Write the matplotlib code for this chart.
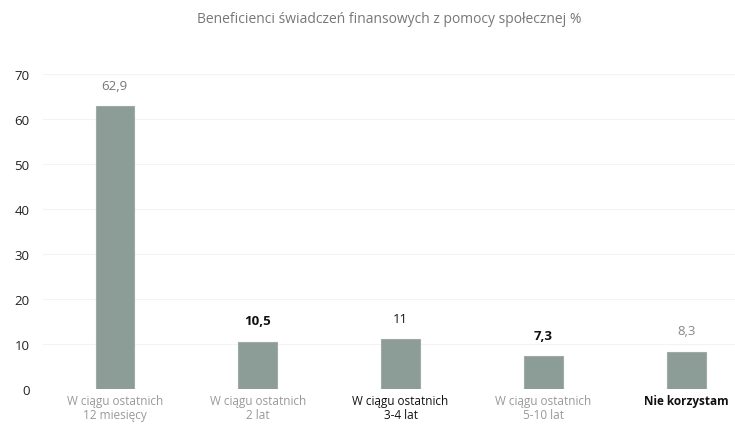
import numpy as np
import matplotlib.pyplot as plt

plt.rcParams['font.family'] = ['Open Sans', 'DejaVu Sans']

title = 'Beneficienci świadczeń finansowych z pomocy społecznej %'
categories = ['W ciągu ostatnich\n12 miesięcy', 'W ciągu ostatnich\n2 lat',
              'W ciągu ostatnich\n3-4 lat', 'W ciągu ostatnich\n5-10 lat',
              'Nie korzystam']
values = [62.9, 10.5, 11, 7.3, 8.3]
value_labels = ['62,9', '10,5', '11', '7,3', '8,3']
yticks = [0, 10, 20, 30, 40, 50, 60, 70]

# scan look: some labels came out dark, some washed out
label_colors = ['#777777', '#111111', '#111111', '#111111', '#888888']
label_weights = ['normal', 'bold', 'normal', 'bold', 'normal']
tick_colors = ['#999999', '#999999', '#111111', '#999999', '#111111']
tick_weights = ['normal', 'normal', 'normal', 'normal', 'bold']

fig = plt.figure(figsize=(7.35, 4.39), dpi=100)
ax = fig.add_axes([0.059, 0.112, 0.941, 0.717])

x = np.arange(len(categories))
ax.bar(x, values, width=0.27, color='#8c9c96', edgecolor='#a0aaa6', linewidth=0.8, zorder=2)

for xi, v, lab, c, w in zip(x, values, value_labels, label_colors, label_weights):
    ax.text(xi, v + 3.2, lab, ha='center', va='bottom', fontsize=9.5, color=c, fontweight=w)

ax.set_xlim(-0.5, 4.34)
ax.set_ylim(0, 70)
ax.set_yticks(yticks)
ax.set_yticklabels([str(t) for t in yticks], fontsize=9.5, color='#222222')
ax.set_xticks(x)
ax.set_xticklabels(categories, fontsize=8.5, linespacing=1.05)
for t, c, w in zip(ax.get_xticklabels(), tick_colors, tick_weights):
    t.set_color(c)
    t.set_fontweight(w)

ax.yaxis.grid(True, color='#f3f3f3', linewidth=0.8, zorder=0)
ax.tick_params(axis='both', length=0, pad=4)
ax.tick_params(axis='y', pad=10)
for s in ax.spines.values():
    s.set_visible(False)

fig.text(0.53, 0.955, title, ha='center', va='center', fontsize=10, color='#777777')

plt.savefig('out.png', dpi=100)
plt.close()
